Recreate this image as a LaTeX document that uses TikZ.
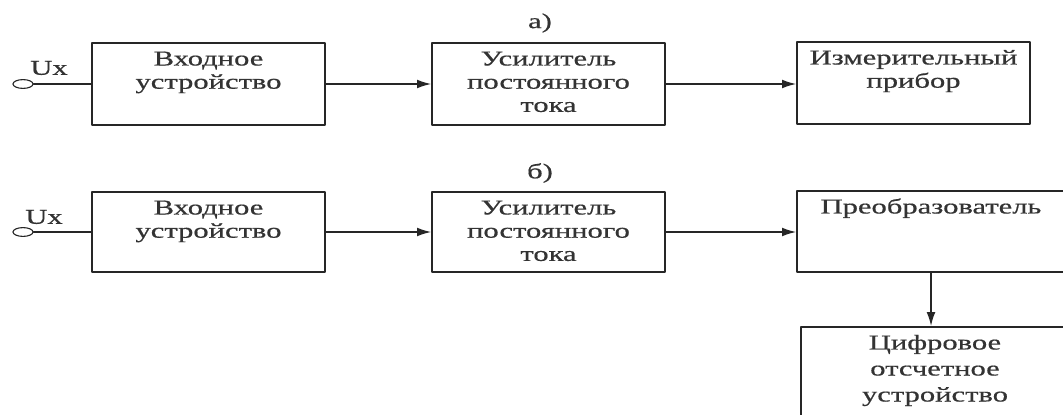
\documentclass[tikz,border=0pt]{standalone}
\usepackage{fontspec}
\setmainfont{Liberation Serif}[FakeStretch=1.45,FakeBold=0.6]
\usetikzlibrary{arrows.meta,shapes.geometric}

\newcommand{\blocktext}[3]{\parbox[c][#2][t]{#1}{\centering\rule{0pt}{16pt}#3}}

\begin{document}
\begin{tikzpicture}[
		x=0.025cm, y=-0.025cm,
		every node/.style={font=\fontsize{15}{16.5}\selectfont, text=black!80},
		blk/.style={draw=black!85, line width=1.3pt, inner sep=0pt},
		term/.style={ellipse, draw=black!85, thick, inner sep=0pt, minimum width=0.5cm, minimum height=0.22cm},
		wire/.style={black!85, line width=1pt},
		arr/.style={black!85, line width=1pt, -{Latex[length=3.5mm,width=2.2mm]}},
		line cap=round,
		line join=round
		]
		\useasboundingbox (0,0) rectangle (1063,414);
		\clip (0,0) rectangle (1063,414);
		
		% ---- схема а) ----
		\node (capa) at (540,23) {а)};
		\node (ta) [term] at (23,84) {};
		\node (uxa) at (49,68) {Ux};
		\node (vxa) [blk] at (208.5,84) {\blocktext{5.825cm}{2.05cm}{Входное\\устройство}};
		\node (upa) [blk] at (548.5,84) {\blocktext{5.825cm}{2.05cm}{Усилитель\\постоянного\\тока}};
		\node (ipa) [blk] at (913.5,83) {\blocktext{5.825cm}{2.05cm}{Измерительный\\прибор}};
		
		\draw[wire] (ta.east) -- (vxa.west);
		\draw[arr] (vxa.east) -- (upa.west);
		\draw[arr] (upa.east) -- (upa.east -| ipa.west);
		
		% ---- схема б) ----
		\node (capb) at (540,173) {б)};
		\node (tb) [term] at (23,232) {};
		\node (uxb) at (44,217) {Ux};
		\node (vxb) [blk] at (208.5,232) {\blocktext{5.825cm}{2cm}{Входное\\устройство}};
		\node (upb) [blk] at (548.5,232) {\blocktext{5.825cm}{2cm}{Усилитель\\постоянного\\тока}};
		\node (prb) [blk] at (931,231.5) {\blocktext{6.7cm}{2.025cm}{Преобразователь}};
		\node (cfb) [blk] at (935,378.5) {\blocktext{6.7cm}{2.575cm}{Цифровое\\[2pt]отсчетное\\[2pt]устройство}};
		
		\draw[wire] (tb.east) -- (vxb.west);
		\draw[arr] (vxb.east) -- (upb.west);
		\draw[arr] (upb.east) -- (upb.east -| prb.west);
		\draw[arr] (prb.south) -- (prb.south |- cfb.north);
	\end{tikzpicture}
\end{document}
